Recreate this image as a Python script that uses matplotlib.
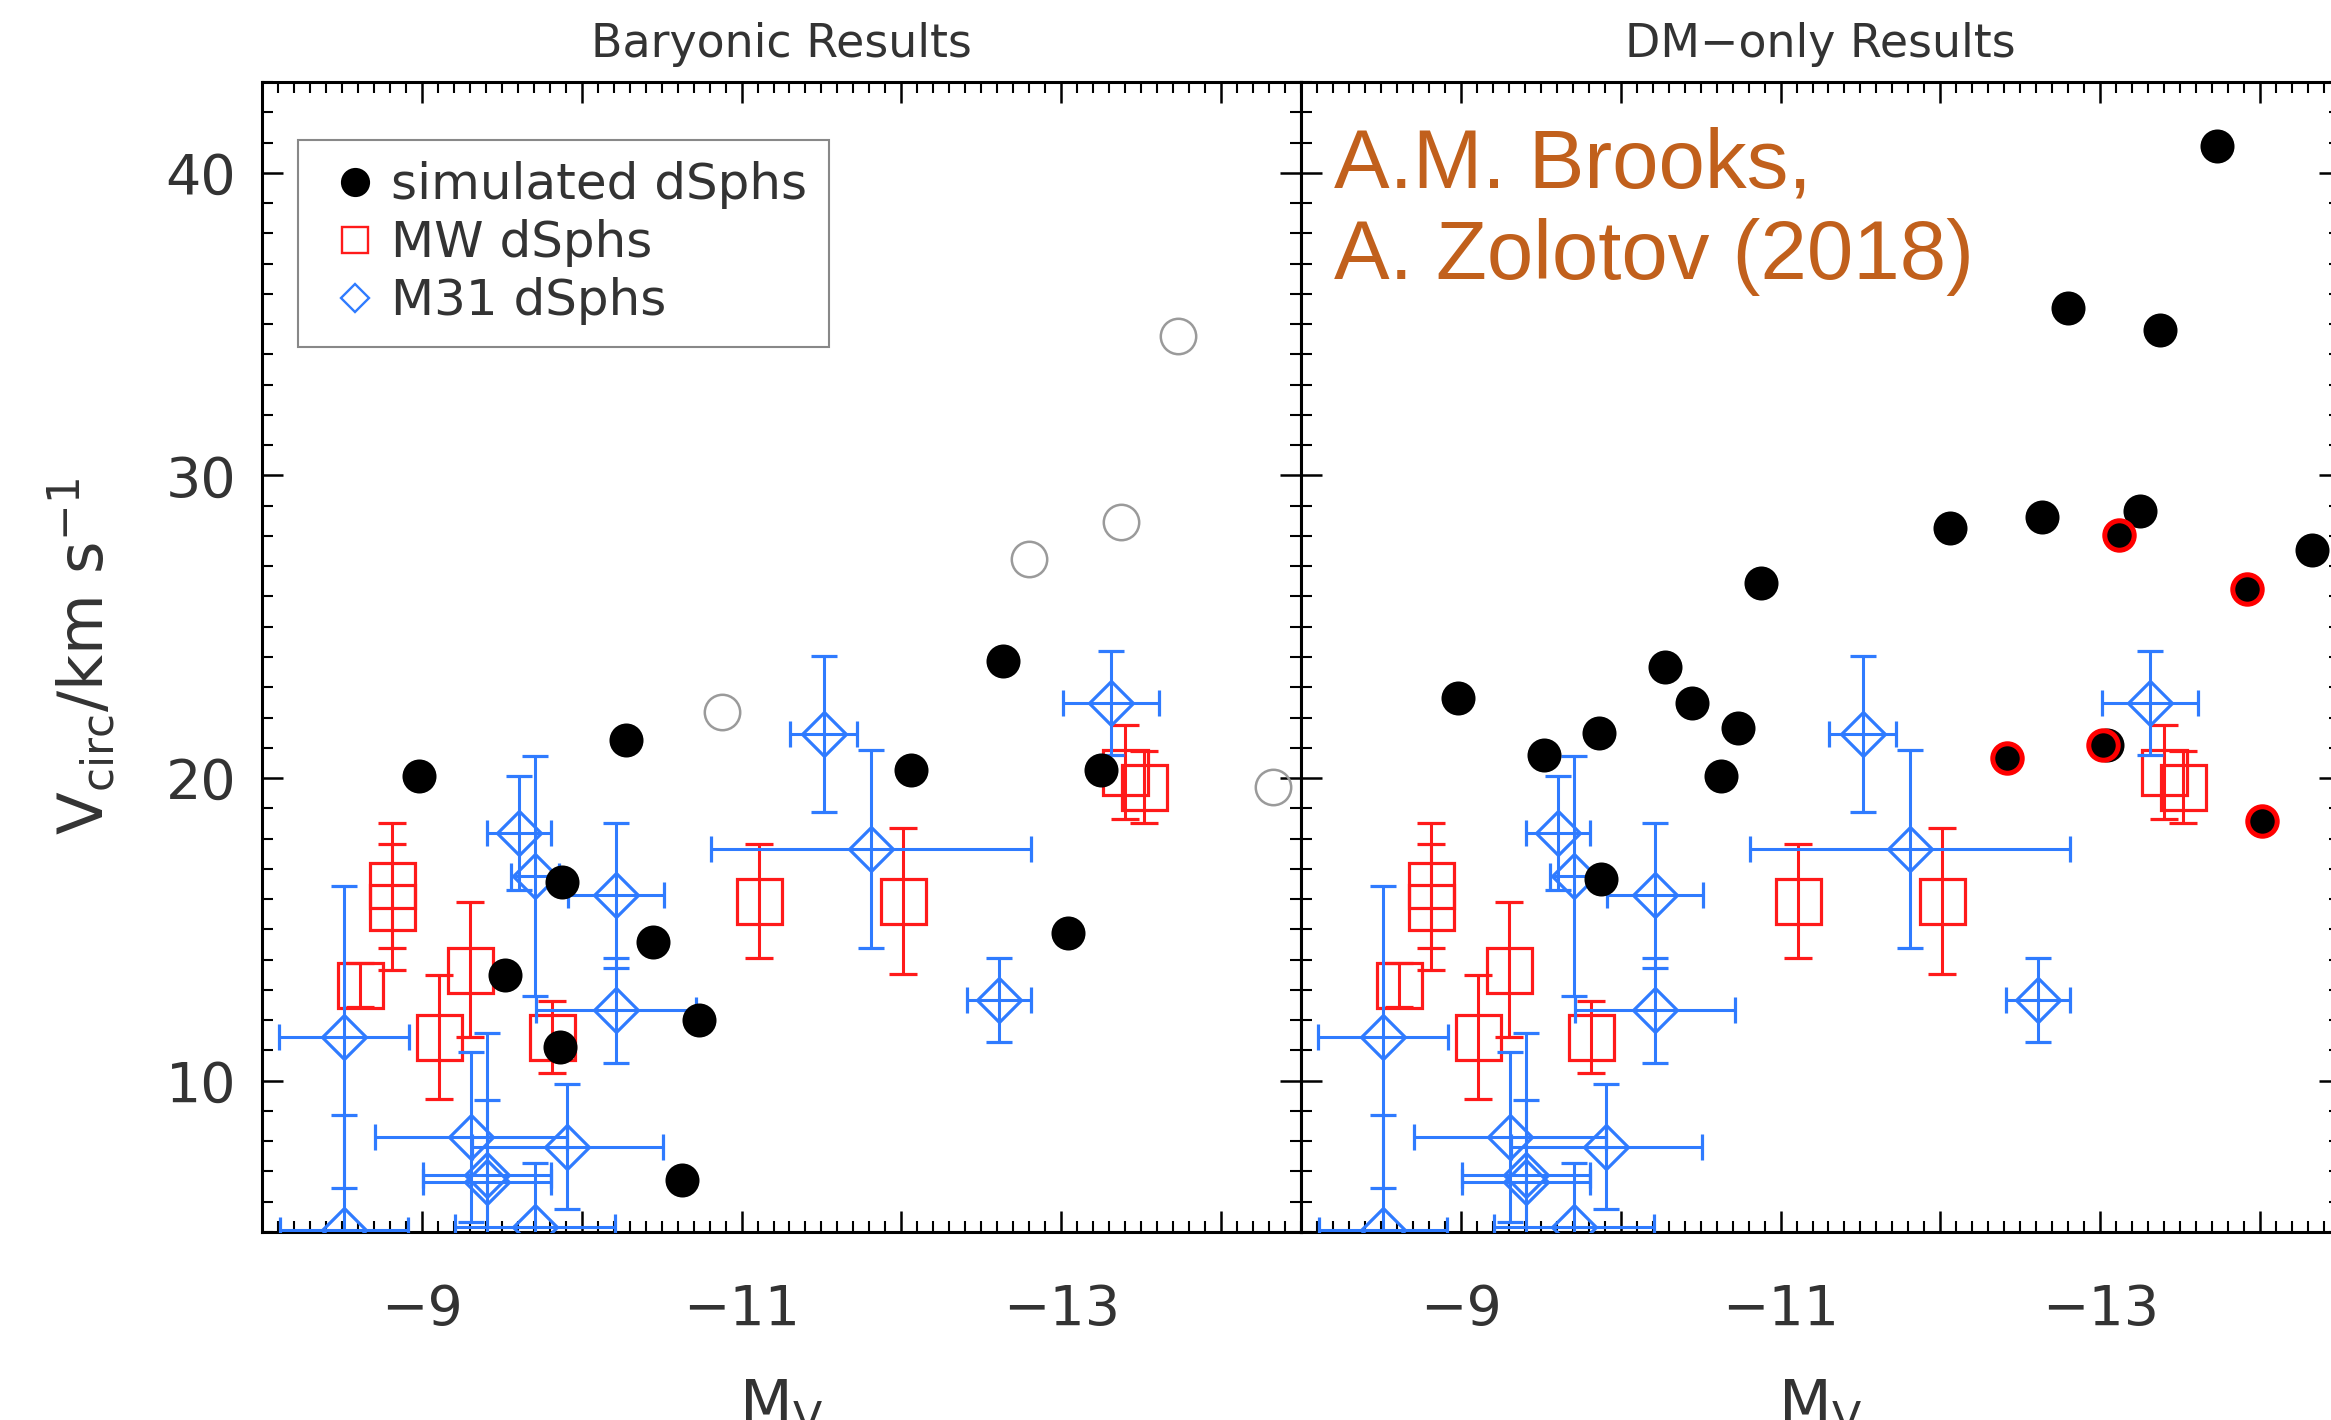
import numpy as np
import matplotlib
matplotlib.use("Agg")
import matplotlib.pyplot as plt
from matplotlib.lines import Line2D
from matplotlib.ticker import MultipleLocator

# simulated dwarfs, same haloes in both runs (M_V, Vcirc baryonic, Vcirc DM-only)
sim_mv = [-8.98, -10.275, -9.877, -10.447, -9.52, -10.733, -9.866, -10.626,
          -12.638, -12.058, -13.248, -13.04,
          -10.879, -14.325, -13.729, -13.376, -12.80]
sim_v_bary = [20.06, 21.27, 16.56, 14.59, 13.50, 12.00, 11.12, 6.73,
              23.86, 20.28, 20.28, 14.89,
              22.17, 19.69, 34.61, 28.45, 27.24]
sim_v_dmo = [22.66, 23.66, 16.68, 22.48, 20.77, 21.66, 21.48, 20.07,
             28.64, 28.26, 28.84, 21.09,
             26.45, 27.55, 40.89, 34.80, 35.53]
# open (grey) circles in the baryonic panel
sim_open = [False] * 12 + [True] * 5

# extra DM-only haloes drawn with a red rim
dmo_extra_mv = [-13.117, -13.916, -12.416, -13.018, -14.01]
dmo_extra_v = [28.03, 26.25, 20.67, 21.09, 18.59]

# Milky Way dSphs
mw_mv = [-8.814, -8.814, -8.61, -9.30, -9.106, -9.813, -11.11, -12.013, -13.40, -13.52]
mw_v = [16.45, 15.74, 13.16, 13.67, 11.44, 11.44, 15.93, 15.93, 20.2, 19.7]
mw_verr = [2.05, 2.08, 0.72, 2.24, 2.06, 1.2, 1.88, 2.42, 1.55, 1.2]

# M31 dSphs
m31_mv = [-8.514, -8.514, -9.61, -9.71, -10.213, -10.213, -9.307, -9.911,
          -9.408, -9.408, -9.71, -11.514, -11.812, -12.61, -13.31]
m31_v = [11.44, 5.06, 18.18, 16.77, 16.12, 12.33, 8.14, 7.82,
         6.88, 6.65, 5.18, 21.45, 17.66, 12.66, 22.48]
m31_mverr = [0.405, 0.40, 0.20, 0.15, 0.30, 0.50, 0.60, 0.60,
             0.40, 0.40, 0.50, 0.21, 1.0, 0.20, 0.30]
m31_verr = [5.0, 3.8, 1.88, 3.97, 2.38, 1.74, 2.80, 2.06,
            4.7, 2.7, 2.1, 2.58, 3.28, 1.39, 1.71]

xticks = [-8, -9, -10, -11, -12, -13, -14]
xticklabels = ["", "\u22129", "", "\u221211", "", "\u221213", ""]
yticks = [10, 20, 30, 40]

RED = "#ff1a1a"
BLUE = "#2f7bff"
GREY = "#9a9a9a"
TXT = "#333333"
ORANGE = "#c1601c"

plt.rcParams["font.family"] = ["DejaVu Sans"]
plt.rcParams["mathtext.fontset"] = "dejavusans"

W, H = 2331, 1420
fig = plt.figure(figsize=(W / 100, H / 100), dpi=100)
ax1 = fig.add_axes([262 / W, 188 / H, 1039 / W, 1150 / H])
ax2 = fig.add_axes([1301 / W, 188 / H, 1039 / W, 1150 / H])


def observed(ax):
    ax.errorbar(mw_mv, mw_v, yerr=mw_verr, fmt="s", ms=32.4, mfc="none", mec=RED, mew=2.3,
                ecolor=RED, elinewidth=2.2, capsize=10, capthick=2.2, zorder=3)
    ax.errorbar(m31_mv, m31_v, xerr=m31_mverr, yerr=m31_verr, fmt="D", ms=22.3, mfc="none",
                mec=BLUE, mew=2.3, ecolor=BLUE, elinewidth=2.2, capsize=9.7, capthick=2.2, zorder=4)


def style(ax):
    ax.set_xlim(-8, -14.5)
    ax.set_ylim(5, 43)
    ax.set_xticks(xticks, xticklabels)
    ax.set_yticks(yticks)
    ax.xaxis.set_minor_locator(MultipleLocator(0.1))
    ax.yaxis.set_minor_locator(MultipleLocator(1))
    ax.tick_params(which="both", direction="in", top=True, right=True,
                   colors="black", labelcolor=TXT, labelsize=40)
    ax.tick_params(which="major", length=15, width=1.8)
    ax.tick_params(which="minor", length=8, width=1.5)
    ax.tick_params(axis="x", which="major", pad=36.7)
    ax.tick_params(axis="y", which="major", pad=18.7)
    for s in ax.spines.values():
        s.set_linewidth(2.2)
    ax.set_xlabel("M$_{\\rm V}$", fontsize=44, color=TXT)
    ax.xaxis.set_label_coords(0.5, -0.126)


# baryonic panel
observed(ax1)
mv = np.array(sim_mv)
vb = np.array(sim_v_bary)
op = np.array(sim_open)
ax1.plot(mv[op], vb[op], "o", ms=25.5, mfc="none", mec=GREY, mew=1.8, zorder=5)
ax1.plot(mv[~op], vb[~op], "o", ms=24.5, color="black", mew=0, zorder=6)
style(ax1)
ax1.set_ylabel("V$_{\\rm circ}$/km s$^{-1}$", fontsize=45, color=TXT)
ax1.yaxis.set_label_coords(-0.1386, 0.5)
ax1.set_title("Baryonic Results", fontsize=33, color=TXT, pad=18)

handles = [
    Line2D([], [], ls="none", marker="o", ms=21, color="black", mew=0, label="simulated dSphs"),
    Line2D([], [], ls="none", marker="s", ms=19, mfc="none", mec=RED, mew=1.7, label="MW dSphs"),
    Line2D([], [], ls="none", marker="D", ms=14.5, mfc="none", mec=BLUE, mew=1.7, label="M31 dSphs"),
]
leg = ax1.legend(handles=handles, loc="upper left", bbox_to_anchor=(0.0351, 0.9496),
                 borderaxespad=0, fontsize=36, frameon=True, fancybox=False,
                 edgecolor="#888888", framealpha=1, borderpad=0.43, handlelength=1.39,
                 handletextpad=0.03, labelspacing=0.2, labelcolor=TXT)
leg.get_frame().set_linewidth(1.5)

# DM-only panel
observed(ax2)
ax2.plot(sim_mv, sim_v_dmo, "o", ms=24.5, color="black", mew=0, zorder=6)
ax2.plot(dmo_extra_mv, dmo_extra_v, "o", ms=21.2, mfc="black", mec="red", mew=3.6, zorder=7)
style(ax2)
ax2.tick_params(labelleft=False)
ax2.set_title("DM\u2212only Results", fontsize=33, color=TXT, pad=18)
ax2.text(0.032, 0.9083, "A.M. Brooks,", transform=ax2.transAxes, fontsize=60,
         family="Liberation Sans", color=ORANGE, ha="left", va="baseline")
ax2.text(0.032, 0.829, "A. Zolotov (2018)", transform=ax2.transAxes, fontsize=60,
         family="Liberation Sans", color=ORANGE, ha="left", va="baseline")

fig.savefig("out.png", dpi=100)
